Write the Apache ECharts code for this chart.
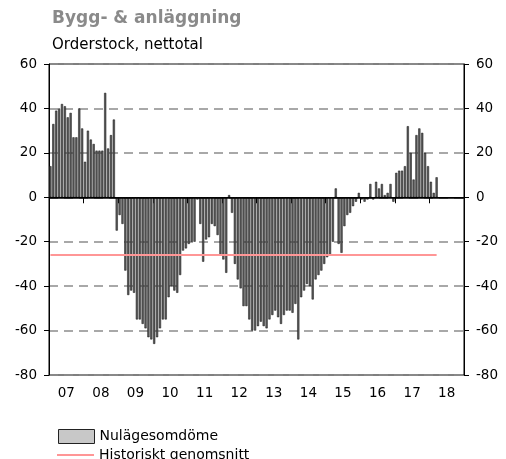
<!DOCTYPE html>
<html lang="sv">
  <head>
    <meta charset="UTF-8" />
    <title>Bygg- & anläggning</title>
    <script src="https://cdn.jsdelivr.net/npm/echarts@6/dist/echarts.min.js"></script>
    <style>
      body {
        margin: 0;
        background: #fff;
      }
      #main {
        width: 506px;
        height: 459px;
      }
    </style>
  </head>
  <body>
    <div id="main"></div>
    <script>
      // månader 2007-01 .. 2018-12
      var months = [];
      for (var y = 2007; y <= 2018; y++) {
        for (var m = 1; m <= 12; m++) {
          months.push(y + "-" + (m < 10 ? "0" + m : m));
        }
      }
      var yearLabels = ["07", "08", "09", "10", "11", "12", "13", "14", "15", "16", "17", "18"];

      // Nulägesomdöme, orderstock nettotal
      var nulage = [
        14, 33, 39, 40, 42, 41, 36, 38, 27, 27, 40, 31,
        16, 30, 26, 24, 21, 21, 21, 47, 22, 28, 35, -15,
        -8, -12, -33, -44, -42, -43, -55, -55, -57, -59, -63, -64,
        -66, -63, -59, -55, -55, -45, -40, -42, -43, -35, -24, -23,
        -21, -20, -20, -1, -12, -29, -19, -18, -12, -13, -17, -26,
        -28, -34, 1, -7, -30, -37, -41, -49, -49, -55, -60, -60,
        -58, -56, -58, -59, -55, -53, -51, -54, -57, -53, -51, -51,
        -52, -48, -64, -45, -42, -39, -40, -46, -37, -35, -33, -30,
        -27, -26, -20, 4, -21, -25, -13, -8, -7, -4, -2, 2,
        -1, -2, -1, 6, -1, 7, 4, 6, 1, 2, 6, -2,
        11, 12, 12, 14, 32, 20, 8, 28, 31, 29, 20, 14,
        7, 2, 9, null, null, null, null, null, null, null, null, null
      ];
      var historisktSnitt = -26;
      var snittFran = "2007-01";
      var snittTill = "2018-03";

      var yTicks = { min: -80, max: 60, interval: 20 };
      var font = "DejaVu Sans";
      var rosa = "#ff9696";

      var myChart = echarts.init(document.getElementById("main"));
      var yAxisBase = {
        type: "value",
        min: yTicks.min,
        max: yTicks.max,
        interval: yTicks.interval,
        axisLine: { show: true, lineStyle: { color: "#000", width: 1 } },
        axisTick: { show: true, length: 5, lineStyle: { color: "#000" } },
        axisLabel: { color: "#000", fontSize: 13.5, fontFamily: font, margin: 12 }
      };
      var option = {
        animation: false,
        title: [
          {
            text: "Bygg- & anläggning",
            left: 47,
            top: 5,
            textStyle: { fontSize: 17, fontWeight: "bold", color: "#8a8a8a", fontFamily: font }
          },
          {
            text: "Orderstock, nettotal",
            left: 47,
            top: 33,
            textStyle: { fontSize: 15, fontWeight: "normal", color: "#000", fontFamily: font }
          }
        ],
        grid: {
          left: 49,
          right: 42,
          top: 64,
          bottom: 84,
          show: true,
          borderColor: "#000",
          borderWidth: 1
        },
        legend: [
          {
            left: 53,
            top: 424,
            itemWidth: 36,
            itemHeight: 14,
            textStyle: { fontSize: 14, color: "#000", fontFamily: font },
            data: [
              {
                name: "Nulägesomdöme",
                icon: "rect",
                itemStyle: { color: "#c8c8c8", borderColor: "#222", borderWidth: 1 }
              }
            ]
          },
          {
            left: 52,
            top: 443,
            itemWidth: 37,
            itemHeight: 2,
            textStyle: { fontSize: 14, color: "#000", fontFamily: font },
            data: [
              {
                name: "Historiskt genomsnitt",
                icon: "rect",
                itemStyle: { color: rosa, borderWidth: 0 }
              }
            ]
          }
        ],
        xAxis: [
          {
            type: "category",
            data: months,
            position: "top",
            show: false
          },
          {
            type: "category",
            data: yearLabels,
            position: "bottom",
            axisLine: { show: true, lineStyle: { color: "#000" } },
            axisTick: { show: true, length: 6, lineStyle: { color: "#000" } },
            axisLabel: { color: "#000", fontSize: 13.5, fontFamily: font, margin: 11 }
          }
        ],
        yAxis: [
          Object.assign({}, yAxisBase, {
            position: "left",
            splitLine: {
              show: true,
              lineStyle: { color: "#8c8c8c", width: 1.5, type: [9, 6] }
            }
          }),
          Object.assign({}, yAxisBase, {
            position: "right",
            splitLine: { show: false }
          })
        ],
        series: [
          {
            name: "Nulägesomdöme",
            type: "bar",
            xAxisIndex: 0,
            data: nulage,
            barCategoryGap: "25%",
            itemStyle: { color: "#5c5c5c", borderColor: "#111", borderWidth: 0.5 },
            markLine: {
              silent: true,
              symbol: "none",
              label: { show: false },
              lineStyle: { color: "#000", width: 1.5, type: "solid" },
              data: [{ yAxis: 0 }]
            }
          },
          {
            name: "Historiskt genomsnitt",
            type: "line",
            xAxisIndex: 0,
            data: [],
            symbol: "none",
            itemStyle: { color: rosa },
            lineStyle: { color: rosa, width: 2 },
            markLine: {
              silent: true,
              symbol: "none",
              label: { show: false },
              lineStyle: { color: rosa, width: 2, type: "solid" },
              data: [
                [
                  { coord: [snittFran, historisktSnitt] },
                  { coord: [snittTill, historisktSnitt] }
                ]
              ]
            }
          }
        ]
      };
      myChart.setOption(option);
    </script>
  </body>
</html>
